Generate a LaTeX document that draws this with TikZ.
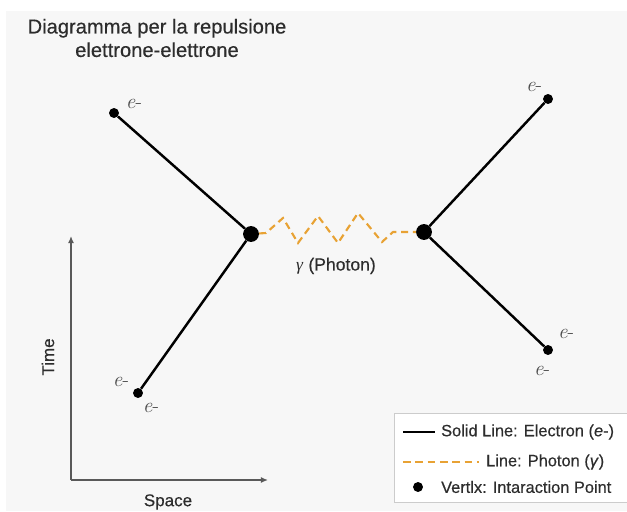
\documentclass[tikz,border=0pt]{standalone}
\usepackage{fontspec}
\setmainfont{Liberation Sans}[FakeBold=0.35]
\newfontfamily\lmfont{Latin Modern Roman}
\newfontfamily\greekfont{Liberation Serif}
\usetikzlibrary{arrows.meta}
\definecolor{photonorange}{RGB}{232,162,52}
\definecolor{bggray}{RGB}{247,247,247}
\definecolor{textgray}{RGB}{45,45,45}
\newcommand{\elec}{{\lmfont\textit{e}-}}
\tikzset{
  electron/.style={line width=2.1pt, black},
  photon/.style={line width=1.8pt, photonorange, dash pattern=on 6pt off 4pt},
  enddot/.style={circle, fill=black, inner sep=0pt, minimum size=8.5pt},
  vertexdot/.style={circle, fill=black, inner sep=0pt, minimum size=13.5pt},
  elabel/.style={text=textgray!85, font=\fontsize{18}{20}\selectfont},
  axis/.style={line width=1.1pt, gray!70!black, -{Latex[length=6pt,width=5pt]}},
  axislabel/.style={text=textgray, font=\fontsize{14.5}{17}\selectfont},
  legendtext/.style={anchor=west, text=textgray, font=\fontsize{14}{16}\selectfont},
}

\begin{document}
\begin{tikzpicture}[x=0.03cm, y=-0.03cm]
    \useasboundingbox (0,0) rectangle (627,511);

    %Sfondo
    \fill[bggray] (6,11) rectangle (627,511);

    %Titolo
    \node[align=center, text=textgray, font=\fontsize{17.2}{20}\selectfont]
        (title) at (157,38) {Diagramma per la repulsione\\elettrone-elettrone};

    %Punkte
    \node[enddot]    (e1) at (114,113) {};
    \node[enddot]    (e2) at (138,393) {};
    \node[vertexdot] (v1) at (251,234) {};
    \node[vertexdot] (v2) at (424,232) {};
    \node[enddot]    (e3) at (548,99)  {};
    \node[enddot]    (e4) at (548,350) {};

    %Elettroni
    \draw[electron] (e1) -- (v1);
    \draw[electron] (e2) -- (v1);
    \draw[electron] (v2) -- (e3);
    \draw[electron] (v2) -- (e4);

    %Fotone
    \draw[photon] (v1) -- (266,233) -- (283,218) -- (298,243) -- (318,216)
        -- (338,243) -- (358,213) -- (382,242) -- (393,232) -- (v2);
    \node[text=textgray, font=\fontsize{15}{17}\selectfont]
        (gamma) at (336,266) {{\greekfont\textit{γ}} (Photon)};

    %Etichette
    \node[elabel] (l1)  at (134,104) {\elec};
    \node[elabel] (l2a) at (121,382) {\elec};
    \node[elabel] (l2b) at (151,408) {\elec};
    \node[elabel] (l3)  at (534,87)  {\elec};
    \node[elabel] (l4a) at (566,334) {\elec};
    \node[elabel] (l4b) at (542,371) {\elec};

    %Assi
    \coordinate (o) at (71,480);
    \coordinate (t) at (71,236);
    \coordinate (s) at (268,480);
    \draw[axis] (o) -- (t);
    \draw[axis] (o) -- (s);
    \node[axislabel, rotate=90] (time) at (48,357) {Time};
    \node[axislabel] (space) at (168,502) {Space};

    %Legenda
    \fill[white] (394,413) rectangle (627,502);
    \draw[gray!40, line width=0.8pt] (627,413) -- (394,413) -- (394,502) -- (627,502);
    \coordinate (a1) at (403,432);
    \coordinate (b1) at (435,432);
    \draw[electron, line width=1.8pt] (a1) -- (b1);
    \node[legendtext] (s1) at (437,432) {Solid Line: Electron (\textit{e}-)};
    \coordinate (a2) at (403,462);
    \coordinate (b2) at (479,462);
    \draw[photon, line width=1.6pt, dash pattern=on 6.5pt off 4pt] (a2) -- (b2);
    \node[legendtext] (s2) at (482,462) {Line: Photon (\textit{γ})};
    \node[enddot] (d3) at (418,487) {};
    \node[legendtext] (s3) at (437,487) {Vertlx: Intaraction Point};

\end{tikzpicture}
\end{document}
